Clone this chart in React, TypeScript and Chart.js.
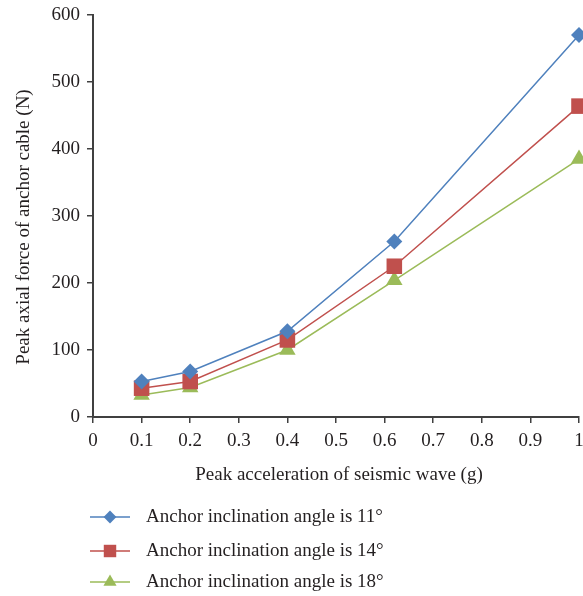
import React, { useEffect, useRef } from 'react';
import { Chart, registerables } from 'chart.js';

Chart.register(...registerables);

const accel = [0.1, 0.2, 0.4, 0.62, 1];
const angle11 = [53, 68, 128, 262, 570];
const angle14 = [43, 53, 115, 225, 464];
const angle18 = [33, 44, 100, 204, 385];
const seriesNames = [
  'Anchor inclination angle is 11°',
  'Anchor inclination angle is 14°',
  'Anchor inclination angle is 18°',
];
const seriesColors = ['#4f81bd', '#c0504d', '#9bbb59'];
const seriesShapes = ['rectRot', 'rect', 'triangle'];
const seriesRadius = [8, 11, 9.5];
const xTitle = 'Peak acceleration of seismic wave (g)';
const yTitle = 'Peak axial force of anchor cable (N)';

const FONT = "'Liberation Serif', 'Times New Roman', serif";
const TEXT = '#231f20';

function drawMarker(ctx: CanvasRenderingContext2D, shape: string, x: number, y: number, r: number, color: string) {
  ctx.save();
  ctx.fillStyle = color;
  ctx.beginPath();
  if (shape === 'rectRot') {
    ctx.moveTo(x, y - r);
    ctx.lineTo(x + r, y);
    ctx.lineTo(x, y + r);
    ctx.lineTo(x - r, y);
  } else if (shape === 'rect') {
    const s = r * Math.SQRT1_2;
    ctx.rect(x - s, y - s, 2 * s, 2 * s);
  } else {
    const h = r * 0.866;
    ctx.moveTo(x, y - r);
    ctx.lineTo(x + h, y + r / 2);
    ctx.lineTo(x - h, y + r / 2);
  }
  ctx.closePath();
  ctx.fill();
  ctx.restore();
}

const annotations = {
  id: 'annotations',
  afterDraw(chart: any) {
    const ctx: CanvasRenderingContext2D = chart.ctx;
    ctx.save();
    ctx.fillStyle = TEXT;
    ctx.font = `19px ${FONT}`;
    ctx.textAlign = 'center';
    ctx.textBaseline = 'middle';
    ctx.fillText(xTitle, 339, 475);
    ctx.save();
    ctx.translate(24, 227);
    ctx.rotate(-Math.PI / 2);
    ctx.fillText(yTitle, 0, 0);
    ctx.restore();

    const rows = [517, 551, 582];
    ctx.textAlign = 'left';
    rows.forEach((y, i) => {
      ctx.strokeStyle = seriesColors[i];
      ctx.lineWidth = 1.5;
      ctx.beginPath();
      ctx.moveTo(90, y);
      ctx.lineTo(130, y);
      ctx.stroke();
      drawMarker(ctx, seriesShapes[i], 110, y, seriesRadius[i] * 0.8, seriesColors[i]);
      ctx.fillStyle = TEXT;
      ctx.fillText(seriesNames[i], 146, y);
    });
    ctx.restore();
  },
};

const CANVAS_W = 610;

export default function App() {
  const ref = useRef<HTMLCanvasElement>(null);
  useEffect(() => {
    if (!ref.current) return;
    const series = [angle11, angle14, angle18];
    const chart = new Chart(ref.current, {
      type: 'line',
      data: {
        datasets: series.map((vals, i) => ({
          label: seriesNames[i],
          data: accel.map((x, j) => ({ x, y: vals[j] })),
          borderColor: seriesColors[i],
          backgroundColor: seriesColors[i],
          borderWidth: 1.5,
          pointStyle: seriesShapes[i] as any,
          pointRadius: seriesRadius[i],
          pointBorderWidth: 0,
          tension: 0,
          clip: false as any,
        })),
      },
      options: {
        animation: false,
        responsive: false,
        maintainAspectRatio: false,
        layout: { padding: { top: 15, right: CANVAS_W - 579, left: 0, bottom: 0 } },
        plugins: { legend: { display: false }, tooltip: { enabled: false }, title: { display: false } },
        scales: {
          x: {
            type: 'linear',
            min: 0,
            max: 1,
            ticks: {
              stepSize: 0.1,
              color: TEXT,
              font: { family: FONT, size: 19 },
              padding: 7,
              maxRotation: 0,
              autoSkip: false,
              callback: (v: any) => String(Number(Number(v).toFixed(2))),
            },
            grid: { display: true, drawOnChartArea: false, drawTicks: true, tickLength: 6, color: '#404040', lineWidth: 1.5 },
            border: { display: true, color: '#404040', width: 2 },
            afterFit: (s: any) => {
              s.height = 596 - 417;
            },
          },
          y: {
            type: 'linear',
            min: 0,
            max: 600,
            ticks: {
              stepSize: 100,
              color: TEXT,
              font: { family: FONT, size: 19 },
              padding: 7,
            },
            grid: { display: true, drawOnChartArea: false, drawTicks: true, tickLength: 6, color: '#404040', lineWidth: 1.5 },
            border: { display: true, color: '#404040', width: 2 },
            afterFit: (s: any) => {
              s.width = 93;
              s.paddingTop = 0;
              s.paddingBottom = 0;
            },
          },
        },
      },
      plugins: [annotations],
    });
    return () => chart.destroy();
  }, []);
  return (
    <div style={{ position: 'absolute', left: 0, top: 0, width: 583, height: 596, overflow: 'hidden', background: '#fff' }}>
      <canvas ref={ref} width={CANVAS_W} height={596} style={{ display: 'block' }} />
    </div>
  );
}
